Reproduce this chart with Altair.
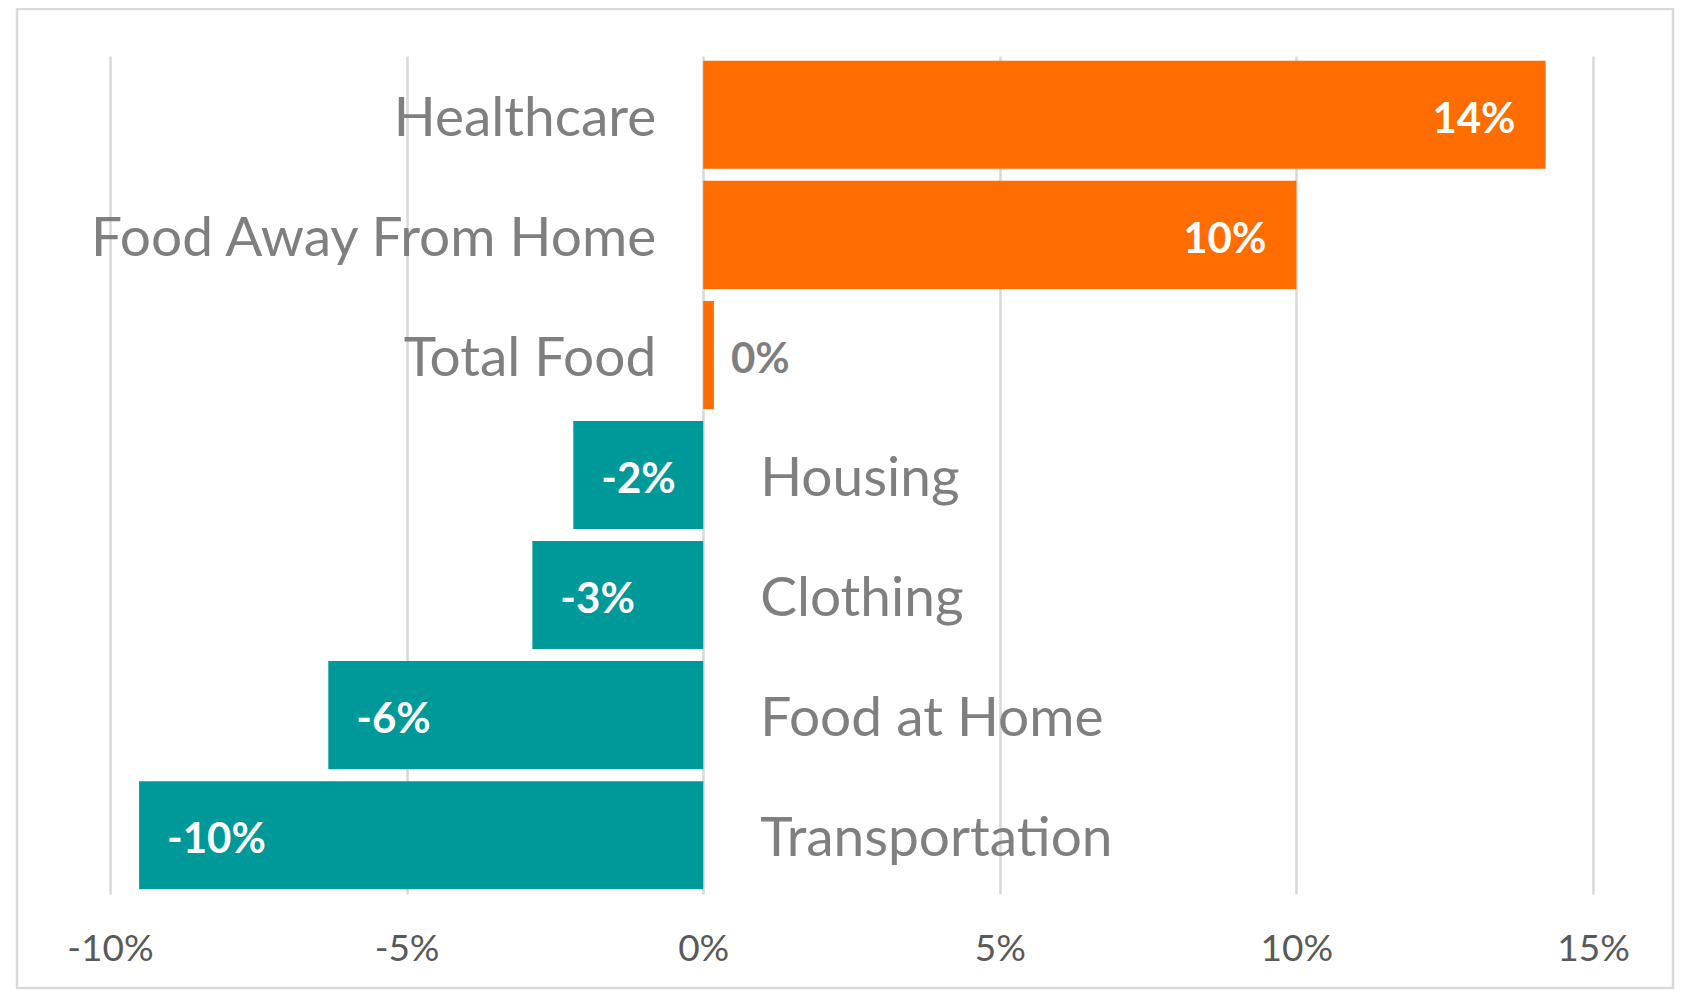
import altair as alt
import pandas as pd

categories = ["Healthcare", "Food Away From Home", "Total Food", "Housing",
              "Clothing", "Food at Home", "Transportation"]
values = [14.2, 10.0, 0.18, -2.19, -2.88, -6.32, -9.51]
value_labels = ["14%", "10%", "0%", "-2%", "-3%", "-6%", "-10%"]
x_ticks = [-10, -5, 0, 5, 10, 15]

ORANGE = "#FF6D00"
TEAL = "#009999"
GRAY = "#7F7F7F"
FONT = "Lato"

df = pd.DataFrame({"category": categories, "value": values, "label": value_labels})
df["zero"] = 0.0
df["sign"] = ["pos" if v >= 0 else "neg" for v in values]

W, H = 1483, 838

x_scale = alt.Scale(domain=[-10, 15], nice=False, zero=False)
y_scale = alt.Scale(domain=categories, paddingInner=0.1, paddingOuter=0.04)

base = alt.Chart(df)

x_axis = alt.Axis(values=x_ticks, labelExpr="datum.value + '%'", title=None,
                  domain=False, ticks=False, grid=True, gridColor="#D9D9D9",
                  gridWidth=2.5, labelFont=FONT, labelFontSize=37,
                  labelColor="#595959", labelPadding=37, labelFlush=False,
                  labelOverlap=False)

frame = base.mark_rect(fill=None, stroke="#D9D9D9", strokeWidth=2.5).encode(
    x=alt.value(-93), x2=alt.value(1563), y=alt.value(-47), y2=alt.value(932)
).transform_filter("datum.category == 'Healthcare'")

bars = base.mark_bar().encode(
    x=alt.X("value:Q", scale=x_scale, axis=x_axis),
    x2="zero:Q",
    y=alt.Y("category:N", scale=y_scale, axis=None, sort=categories),
    color=alt.Color("sign:N", scale=alt.Scale(domain=["pos", "neg"], range=[ORANGE, TEAL]),
                    legend=None),
)

CAT_SIZE = 55

cat_pos = base.mark_text(align="right", baseline="middle", dx=-47, dy=4, font=FONT,
                         fontSize=CAT_SIZE, color=GRAY).encode(
    x=alt.X("zero:Q", scale=x_scale),
    y=alt.Y("category:N", scale=y_scale, sort=categories, axis=None),
    text="category:N",
).transform_filter("datum.value >= 0")

cat_neg = base.mark_text(align="left", baseline="middle", dx=57, dy=4, font=FONT,
                         fontSize=CAT_SIZE, color=GRAY).encode(
    x=alt.X("zero:Q", scale=x_scale),
    y=alt.Y("category:N", scale=y_scale, sort=categories, axis=None),
    text="category:N",
).transform_filter("datum.value < 0")

VAL_SIZE = 42

val_big = base.mark_text(align="right", baseline="middle", dx=-30, dy=5, font=FONT,
                         fontSize=VAL_SIZE, fontWeight="bold", color="white").encode(
    x=alt.X("value:Q", scale=x_scale),
    y=alt.Y("category:N", scale=y_scale, sort=categories, axis=None),
    text="label:N",
).transform_filter("datum.value >= 1")

val_small = base.mark_text(align="left", baseline="middle", dx=17, dy=5, font=FONT,
                           fontSize=VAL_SIZE, fontWeight="bold", color=GRAY).encode(
    x=alt.X("value:Q", scale=x_scale),
    y=alt.Y("category:N", scale=y_scale, sort=categories, axis=None),
    text="label:N",
).transform_filter("datum.value >= 0 && datum.value < 1")

val_neg = base.mark_text(align="left", baseline="middle", dx=28, dy=5, font=FONT,
                         fontSize=VAL_SIZE, fontWeight="bold", color="white").encode(
    x=alt.X("value:Q", scale=x_scale),
    y=alt.Y("category:N", scale=y_scale, sort=categories, axis=None),
    text="label:N",
).transform_filter("datum.value < 0")

chart = alt.layer(frame, bars, cat_pos, cat_neg, val_big, val_small, val_neg).properties(
    width=W, height=H,
    background="white",
    autosize=alt.AutoSizeParams(type="none"),
    padding={"left": 102, "top": 48, "right": 88, "bottom": 96},
).configure_view(stroke="transparent", strokeWidth=0)

chart.save("out.html", embed_options={"renderer": "svg", "actions": False})
